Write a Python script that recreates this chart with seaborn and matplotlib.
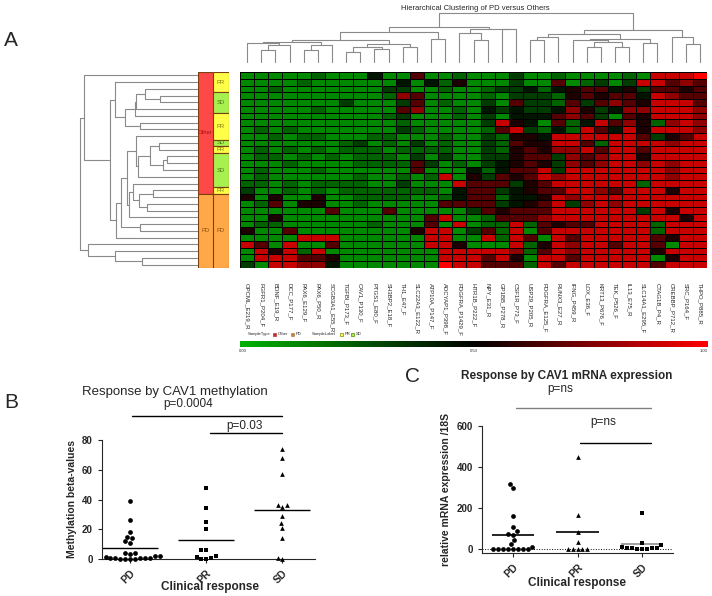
import numpy as np
import matplotlib
matplotlib.use('Agg')
import matplotlib.pyplot as plt
import seaborn as sns
from matplotlib.colors import LinearSegmentedColormap
from matplotlib.patches import Rectangle
import matplotlib as mpl

sns.set_style('ticks')
plt.rcParams['font.family'] = ['Liberation Sans', 'DejaVu Sans']

# ---- data: heatmap ----
genes = ['OPCML_E219_R', 'FGFR1_P204_F', 'BDNF_E19_R', 'DCC_P177_F', 'PAX6_E129_F', 'PAX6_P50_R',
         'SCGB3A1_E55_R', 'TGFBI_P173_F', 'CAV1_P130_F', 'PTGS1_E80_F', 'SH3BP2_E18_F', 'TH1_E47_F',
         'SLC22A3_E122_R', 'ATP10A_P147_F', 'ADCYAP1_P398_F', 'PDGFRA_P1429_F', 'HTR1B_P222_F',
         'NPY_E31_R', 'GP1BB_P278_R', 'CSF1R_P73_F', 'USP29_P205_R', 'PDGFRA_E125_F', 'RUNX3_E27_R',
         'IFNG_P459_R', 'LOX_E36_F', 'KRT13_P676_F', 'TEK_P526_F', 'IL13_E75_R', 'SLC14A1_E295_F',
         'CTAG1B_P4_R', 'CREBBP_P712_R', 'SRC_P164_F', 'THPO_P885_R']

# methylation level per cell, 0 (green) .. 9 (red)
heat_rows = [
    '11111211141161121' + '1131121111218889',
    '11112111111414251' + '1131161231388676',
    '11211111113311211' + '2334245664536656',
    '11111111112761111' + '2133325656648766',
    '11111113111361211' + '3163326367658886',
    '11111211111671121' + '4343347534778887',
    '11111111112311121' + '3144467631658887',
    '11111111111211111' + '3854162486752787',
    '12121111111321111' + '2683242864858887',
    '11212211122111211' + '3255488888863568',
    '11111112312131211' + '3265588628888788',
    '12121212221222211' + '3256577868868888',
    '12212121222131311' + '3356637678858888',
    '11121111222263121' + '3456537678878788',
    '12111211111161114' + '2466838888888788',
    '12111111211212815' + '3656878888888788',
    '22121222211311186' + '6635688888828888',
    '31121212222222146' + '6345668876888588',
    '51511511222211246' + '6244587888888888',
    '12615511211111666' + '6345683787888888',
    '11111161116111113' + '6566688888838588',
    '11511111111116811' + '2666788888888858',
    '12211111121116181' + '2282656688882888',
    '51161111111158813' + '6281688888882888',
    '11118881111118811' + '8286186888886588',
    '86181161111118851' + '1182587886886188',
    '18582811111111888' + '8872687888885888',
    '18886651111111888' + '6851886888881588',
    '31887741111111988' + '6662868888886888',
]

sample_type = ['Other'] * 18 + ['PD'] * 11
sample_label = ['PR'] * 3 + ['SD'] * 3 + ['PR'] * 4 + ['SD'] + ['PR'] + ['SD'] * 5 + ['PR'] + ['PD'] * 11

# dendrograms: (height, left, right), leaves are row / column indices
row_tree = (358,
            (348, 0,
             (268,
              (253, 1, (223, (193, (190, (163, 2, (118, 3, 4)), 5), 6), (178, 7, 8))),
              (250,
               (236,
                (218,
                 (190, 9, (183, (148, (120, 10, 11), (110, (98, 12, 13), 14)), 15)),
                 (210, (198, 16, (180, (140, 17, 18), (158, 19, 20))), 21)),
                (178, 22, 23)),
               24))),
            (336, 25, (253, 26, (173, 27, 28))))

col_tree = (145,
            (103,
             (88,
              (67,
               (60, (57, 0, (52, (37, 1, 2), 3)), (52, (37, 4, 5), 6)),
               (55, (45, (30, 7, 8), (40, 9, 10)), (45, 11, 12))),
              (68, 13, 14)),
             (98, (85, 15, (67, 16, 17)), (97, 18, 19))),
            (95,
             (83,
              (75, (65, 20, 21), 22),
              (70, (65, 23, (60, (45, 24, 25), (45, 26, 27))), (58, 28, 29))),
             (75, 30, (55, 31, 32))))

# ---- data: scatter panels ----
groups = ['PD', 'PR', 'SD']
meth_pd = [39, 26, 18, 15, 14, 12, 11, 4, 4, 3.5, 2, 2, 1.5, 1, 1, 1, 0.5, 0.5, 0, 0, 0, 0]
meth_pr = [48, 34, 25, 20, 6, 6, 2, 1.5, 1, 0, 0]
meth_sd = [74, 68, 57, 36, 36, 35, 29, 24, 21, 14, 1, 0]
mrna_pd = [315, 298, 160, 105, 85, 75, 70, 42, 22, 10, 0, 0, 0, 0, 0, 0, 0, 0]
mrna_pr = [450, 165, 83, 35, 0, 0, 0, 0, 0]
mrna_sd = [175, 28, 20, 10, 6, 4, 3, 2, 1, 1, 0]

W, H = 712, 596


def box(x0, y0, x1, y1):
    return [x0 / W, 1 - y1 / H, (x1 - x0) / W, (y1 - y0) / H]


def fxy(x, y):
    return x / W, 1 - y / H


def dendro(ax, node, horizontal=False):
    if isinstance(node, int):
        return node + 0.5, 0
    h, left, right = node
    pl, hl = dendro(ax, left, horizontal)
    pr, hr = dendro(ax, right, horizontal)
    pos = [pl, pl, pr, pr]
    hts = [hl, h, h, hr]
    if horizontal:
        ax.plot(hts, pos, color='#8a8a8a', lw=0.8, clip_on=False)
    else:
        ax.plot(pos, hts, color='#8a8a8a', lw=0.8, clip_on=False)
    return (pl + pr) / 2, h


def runs(labels):
    out = []
    start = 0
    for i in range(1, len(labels) + 1):
        if i == len(labels) or labels[i] != labels[start]:
            out.append((labels[start], start, i - start))
            start = i
    return out


fig = plt.figure(figsize=(7.12, 5.96), dpi=100)

# ---- Panel A ----
mat = np.array([[int(c) / 9 for c in row] for row in heat_rows])
hm_cmap = LinearSegmentedColormap.from_list('gkr', ['#00b000', '#000000', '#ff0000'])

ax_hm = fig.add_axes(box(240, 72, 707, 268))
sns.heatmap(mat, ax=ax_hm, cmap=hm_cmap, vmin=0, vmax=1, cbar=False,
            linewidths=0.4, linecolor='black', xticklabels=genes, yticklabels=False)
ax_hm.tick_params(axis='x', length=0, pad=11, labelsize=4.3)
for lab in ax_hm.get_xticklabels():
    lab.set_rotation(270)
    lab.set_va('top')
    lab.set_ha('center')

ax_cd = fig.add_axes(box(240, 13, 707, 62))
dendro(ax_cd, col_tree)
ax_cd.set_xlim(0, len(genes))
ax_cd.set_ylim(0, 146)
ax_cd.axis('off')

ax_rd = fig.add_axes(box(80, 72, 199, 268))
dendro(ax_rd, row_tree, horizontal=True)
ax_rd.set_xlim(359, 0)
ax_rd.set_ylim(len(heat_rows), 0)
ax_rd.axis('off')

type_colors = {'Other': '#ff4848', 'PD': '#ffa848'}
label_colors = {'PR': '#ffff48', 'SD': '#a8f050', 'PD': '#ffa848'}
text_colors = {'Other': '#a01010', 'PD': '#8a4a10', 'PR': '#7a7a10', 'SD': '#4a7a10'}

for labels, colors, x0, x1 in [(sample_type, type_colors, 198, 213), (sample_label, label_colors, 213, 229)]:
    ax_s = fig.add_axes(box(x0, 72, x1, 268))
    for name, start, length in runs(labels):
        ax_s.add_patch(Rectangle((0, start), 1, length, facecolor=colors[name],
                                 edgecolor='#7a4010', lw=0.8))
        ax_s.text(0.5, start + length / 2, name, ha='center', va='center',
                  fontsize=4.2, color=text_colors[name])
    ax_s.set_xlim(0, 1)
    ax_s.set_ylim(len(labels), 0)
    ax_s.axis('off')

fig.text(*fxy(475, 8), 'Hierarchical Clustering of PD versus Others', ha='center', va='center', fontsize=5.5)
fig.text(*fxy(11, 40), 'A', ha='center', va='center', fontsize=15)

# legend line
leg_y = 334
fig.text(*fxy(248, leg_y), 'SampleType', fontsize=3, va='center')
fig.text(*fxy(312, leg_y), 'SampleLabel', fontsize=3, va='center')
for x, name, fc, ec in [(273, 'Other', '#c03030', '#c03030'), (291, 'PD', '#c08040', '#c08040'),
                        (340, 'PR', '#ffff60', '#808000'), (351, 'SD', '#a8f050', '#508000')]:
    fig.patches.append(Rectangle(fxy(x, leg_y + 2), 3 / W, 3.5 / H, transform=fig.transFigure,
                                 facecolor=fc, edgecolor=ec, lw=0.5))
    fig.text(*fxy(x + 4.5, leg_y), name, fontsize=3, va='center')

ax_cb = fig.add_axes(box(240, 341, 708, 347))
cb = mpl.colorbar.ColorbarBase(ax_cb, cmap=hm_cmap, orientation='horizontal')
ax_cb.set_xticks([])
cb.outline.set_visible(False)
for x, t in [(243, '0.00'), (474, '0.50'), (704, '1.00')]:
    fig.text(*fxy(x, 351), t, fontsize=3, ha='center', va='center')

# ---- Panel B ----
markers_b = {'PD': 'o', 'PR': 's', 'SD': '^'}
ax_b = fig.add_axes(box(102, 440, 315, 559))
for i, (grp, vals) in enumerate(zip(groups, [meth_pd, meth_pr, meth_sd])):
    sns.swarmplot(x=[grp] * len(vals), y=vals, order=groups, marker=markers_b[grp], color='black',
                  size=3.4, ax=ax_b, clip_on=False, warn_thresh=1)
    ax_b.hlines(np.mean(vals), i - 0.37, i + 0.37, color='black', lw=1)
ax_b.set_xlim(-0.37, 2.43)
ax_b.set_ylim(0, 80)
ax_b.set_yticks([0, 20, 40, 60, 80])
sns.despine(ax=ax_b)
ax_b.set_xlabel('')
ax_b.set_ylabel('Methylation beta-values', fontsize=7.5, fontweight='bold', labelpad=4)
ax_b.tick_params(labelsize=7, width=0.8, length=3)
for lab in ax_b.get_yticklabels():
    lab.set_fontweight('bold')
ax_b.set_xticks(range(3))
ax_b.set_xticklabels(groups, rotation=45, ha='right', rotation_mode='anchor', fontweight='bold', fontsize=7.5)
ax_b.plot([0.03, 2.0], [96, 96], color='black', lw=1, clip_on=False)
ax_b.text(0.76, 104, 'p=0.0004', ha='center', va='center', fontsize=8.5)
ax_b.plot([1.05, 2.0], [84.7, 84.7], color='black', lw=1, clip_on=False)
ax_b.text(1.5, 89.6, 'p=0.03', ha='center', va='center', fontsize=8.5)
fig.text(*fxy(210, 587), 'Clinical response', ha='center', va='center', fontsize=8.5, fontweight='bold')
fig.text(*fxy(175, 392), 'Response by CAV1 methylation', ha='center', va='center', fontsize=9.5)
fig.text(*fxy(11, 403), 'B', ha='center', va='center', fontsize=15)

# ---- Panel C ----
markers_c = {'PD': 'o', 'PR': '^', 'SD': 's'}
ax_c = fig.add_axes(box(482, 426, 673, 553))
ax_c.axhline(0, color='black', lw=0.7, ls=':')
for i, (grp, vals) in enumerate(zip(groups, [mrna_pd, mrna_pr, mrna_sd])):
    sns.swarmplot(x=[grp] * len(vals), y=vals, order=groups, marker=markers_c[grp], color='black',
                  size=3.4, ax=ax_c, clip_on=False, warn_thresh=1)
    ax_c.hlines(np.mean(vals), i - 0.33, i + 0.33, color='#909090' if grp == 'SD' else 'black', lw=1.2)
ax_c.set_xlim(-0.48, 2.48)
ax_c.set_ylim(-20, 600)
ax_c.set_yticks([0, 200, 400, 600])
sns.despine(ax=ax_c)
ax_c.set_xlabel('')
ax_c.set_ylabel('relative mRNA expression /18S', fontsize=7.5, fontweight='bold', labelpad=4)
ax_c.tick_params(labelsize=7, width=0.8, length=3)
for lab in ax_c.get_yticklabels():
    lab.set_fontweight('bold')
ax_c.set_xticks(range(3))
ax_c.set_xticklabels(groups, rotation=45, ha='right', rotation_mode='anchor', fontweight='bold', fontsize=7.5)
ax_c.plot([0.05, 2.14], [688, 688], color='#808080', lw=1, clip_on=False)
ax_c.plot([1.04, 2.14], [517, 517], color='black', lw=1, clip_on=False)
ax_c.text(1.4, 620, 'p=ns', ha='center', va='center', fontsize=8.5)
fig.text(*fxy(560, 389), 'p=ns', ha='center', va='center', fontsize=8.5)
fig.text(*fxy(567, 376), 'Response by CAV1 mRNA expression', ha='center', va='center',
         fontsize=8.5, fontweight='bold')
fig.text(*fxy(577, 583), 'Clinical response', ha='center', va='center', fontsize=8.5, fontweight='bold')
fig.text(*fxy(412, 377), 'C', ha='center', va='center', fontsize=15)

fig.savefig('out.png', dpi=100)
